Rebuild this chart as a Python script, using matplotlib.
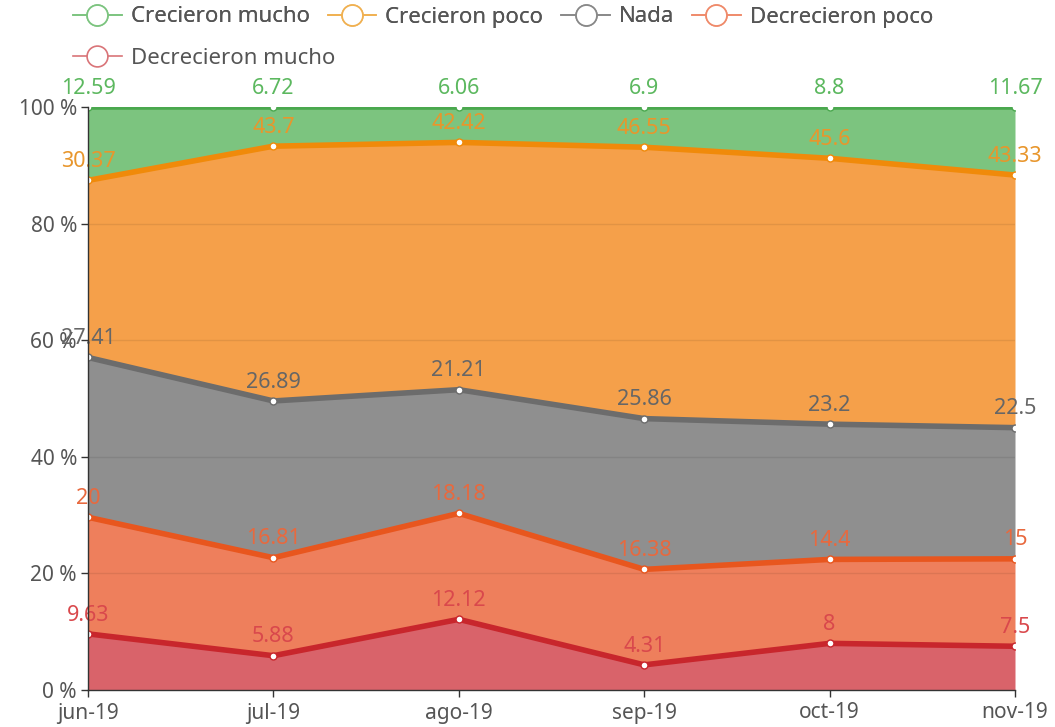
import matplotlib.pyplot as plt
import numpy as np
from matplotlib.lines import Line2D

plt.rcParams['font.family'] = ['Noto Sans', 'DejaVu Sans']

months = ['jun-19', 'jul-19', 'ago-19', 'sep-19', 'oct-19', 'nov-19']
# stacked bottom -> top
dec_mucho = [9.63, 5.88, 12.12, 4.31, 8, 7.5]
dec_poco = [20, 16.81, 18.18, 16.38, 14.4, 15]
nada = [27.41, 26.89, 21.21, 25.86, 23.2, 22.5]
cre_poco = [30.37, 43.7, 42.42, 46.55, 45.6, 43.33]
cre_mucho = [12.59, 6.72, 6.06, 6.9, 8.8, 11.67]

names = ['Decrecieron mucho', 'Decrecieron poco', 'Nada', 'Crecieron poco', 'Crecieron mucho']
series = [dec_mucho, dec_poco, nada, cre_poco, cre_mucho]
fill_colors = ['#d9636a', '#ee7f5c', '#8f8f8f', '#f5a04a', '#7cc47f']
line_colors = ['#c8262c', '#e8561e', '#6c6c6c', '#f08a0a', '#4aa84e']
label_colors = ['#d9484c', '#e8693e', '#666666', '#e8962c', '#5cb85f']
legend_colors = ['#d97478', '#ef8a6a', '#888888', '#f0b050', '#7cc47f']

fig = plt.figure(figsize=(10.55, 7.27), dpi=100)
ax = fig.add_axes([88 / 1055, 37 / 727, (1015 - 88) / 1055, (690 - 107) / 727])

x = np.arange(len(months))
bottom = np.zeros(len(months))
for vals, fc, lc, tc in zip(series, fill_colors, line_colors, label_colors):
    top = bottom + np.array(vals)
    ax.fill_between(x, bottom, top, color=fc, lw=0, zorder=1)
    ax.plot(x, top, color=lc, lw=4, zorder=3, solid_capstyle='butt')
    ax.plot(x, top, 'o', ms=5, mfc='white', mec=lc, mew=1, zorder=4)
    for xi, yi, v in zip(x, top, vals):
        ax.annotate('%g' % v, (xi, yi), xytext=(0, 6), textcoords='offset points',
                    ha='center', va='bottom', color=tc, fontsize=15.5, zorder=5,
                    annotation_clip=False)
    bottom = top

for g in [20, 40, 60, 80]:
    ax.axhline(g, color='black', alpha=0.08, lw=1, zorder=2)

ax.set_xlim(0, len(months) - 1)
ax.set_ylim(0, 100)
ax.set_xticks(x)
ax.set_xticklabels(months)
ax.set_yticks([0, 20, 40, 60, 80, 100])
ax.set_yticklabels(['%d %%' % v for v in [0, 20, 40, 60, 80, 100]])
ax.tick_params(axis='both', colors='#333333', labelcolor='#555555', labelsize=15,
               length=5, width=1)
ax.tick_params(axis='x', pad=4)
ax.tick_params(axis='y', pad=3)
for s in ['top', 'right']:
    ax.spines[s].set_visible(False)
for s in ['left', 'bottom']:
    ax.spines[s].set_color('#333333')
    ax.spines[s].set_linewidth(1)
    ax.spines[s].set_zorder(6)


def handle(c):
    return Line2D([], [], color=c, lw=1.2, marker='o', ms=15, mfc='white', mec=c, mew=1.2)


leg_kw = dict(frameon=False, fontsize=16, handlelength=2.2, handletextpad=0.4,
              columnspacing=0.8, labelcolor='#555555', borderaxespad=0, borderpad=0,
              loc='center left')
order = [4, 3, 2, 1]
leg1 = fig.legend([handle(legend_colors[i]) for i in order], [names[i] for i in order],
                  ncol=4, bbox_to_anchor=(73 / 1055, 1 - 17 / 727), **leg_kw)
fig.add_artist(leg1)
fig.legend([handle(legend_colors[0])], [names[0]],
           bbox_to_anchor=(73 / 1055, 1 - 58 / 727), **leg_kw)

fig.savefig('out.png', dpi=100)
